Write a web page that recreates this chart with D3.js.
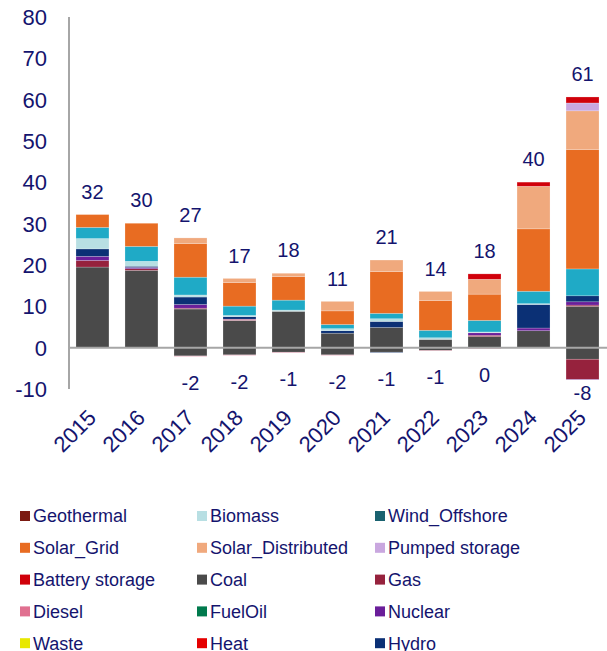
<!DOCTYPE html>
<html><head><meta charset="utf-8">
<script src="https://cdn.jsdelivr.net/npm/d3@7"></script>
<style>
body{margin:0;background:#fff;}
svg text{font-family:"Liberation Sans",Arial,sans-serif;fill:#14146e;}
</style></head>
<body><svg id="c" width="607" height="651"></svg>
<script>
const years = ["2015","2016","2017","2018","2019","2020","2021","2022","2023","2024","2025"];
const seriesNames = ["Coal","Gas","Diesel","FuelOil","Nuclear","Hydro","Geothermal","Biomass","Waste","Wind_Onshore","Wind_Offshore","Solar_Grid","Solar_Distributed","Pumped storage","Battery storage","Heat"];
const colors = ["#4a4a4a","#96223d","#e07090","#007a4d","#6a1e9a","#0b3075","#7b1a12","#b8dfe3","#e8e800","#1faac6","#1a6270","#e86c22","#f0a97d","#c9a7df","#d0000a","#e50000"];
// additions (positive)
const addCoal    = [19.5,18.7,9.35,6.6,8.8,3.5,4.9,2.0,2.7,4.1,10.0];
const addGas     = [1.6,0.4,0.2,0,0,0,0,0,0.3,0,0.3];
const addDiesel  = [0,0,0,0.3,0,0,0,0,0,0,0];
const addFuelOil = [0,0,0,0,0,0,0,0,0,0,0];
const addNuclear = [1.0,0.3,0.9,0,0,0,0,0,0.6,0.65,0.8];
const addHydro   = [1.8,0.3,1.8,0.6,0,0.6,1.45,0,0,5.7,1.45];
const addGeo     = [0,0,0,0,0,0,0,0,0,0,0];
const addBiomass = [2.5,1.2,0.5,0.3,0.3,0.5,0.65,0.4,0.2,0.2,0];
const addWaste   = [0,0,0,0,0,0,0,0,0,0,0];
const addWindOn  = [2.7,3.6,4.3,2.25,2.4,1.0,1.3,1.8,2.8,3.0,6.5];
const addWindOff = [0,0,0,0,0,0,0,0,0,0,0];
const addSolarG  = [3.1,5.6,8.1,5.7,5.7,3.3,10.1,7.2,6.35,15.1,28.9];
const addSolarD  = [0,0,1.4,1.0,0.8,2.3,2.8,2.2,3.6,10.3,9.35];
const addPumped  = [0,0,0,0,0,0,0,0,0,0,1.9];
const addBattery = [0,0,0,0,0,0,0,0,1.3,1.0,1.45];
const addHeat    = [0,0,0,0,0,0,0,0,0,0,0];
// retirements (negative)
const retCoal    = [0,0,-2.0,-1.75,-1.1,-1.75,-1.1,-0.7,0,0,-2.8];
const retGas     = [0,0,0,0,0,0,0,0,0,0,-4.9];
const retDiesel  = [0,0,-0.1,-0.1,-0.1,-0.1,0,-0.1,-0.2,0,0];
const retNuclear = [0,0,0,0,0,0,0,0,0,0,-0.1];
const retHydro   = [0,0,0,0,0,0,-0.1,0,0,0,0];
const yTicks = [-10,0,10,20,30,40,50,60,70,80];
const legendOrder = ["Geothermal","Biomass","Wind_Offshore","Solar_Grid","Solar_Distributed","Pumped storage","Battery storage","Coal","Gas","Diesel","FuelOil","Nuclear","Waste","Heat","Hydro","Wind_Onshore"];

const addArr = [addCoal,addGas,addDiesel,addFuelOil,addNuclear,addHydro,addGeo,addBiomass,addWaste,addWindOn,addWindOff,addSolarG,addSolarD,addPumped,addBattery,addHeat];
const zero = years.map(()=>0);
const retMap = {Coal:retCoal,Gas:retGas,Diesel:retDiesel,Nuclear:retNuclear,Hydro:retHydro};
const retArr = seriesNames.map(n=>retMap[n]||zero);
const color = d3.scaleOrdinal().domain(seriesNames).range(colors);

const svg = d3.select("#c");
const x = d3.scaleBand().domain(years).range([68,607]).paddingInner(0.327).paddingOuter(0.163);
const y = d3.scaleLinear().domain([-10,80]).range([389,17]);

function rows(arrs){return years.map((yr,i)=>{const o={year:yr};seriesNames.forEach((n,k)=>o[n]=arrs[k][i]);return o;});}
const stackGen = d3.stack().keys(seriesNames).offset(d3.stackOffsetDiverging);
const addStack = stackGen(rows(addArr));
const retStack = stackGen(rows(retArr));

function drawStack(st){
  svg.append("g").selectAll("g").data(st).join("g").attr("fill",d=>color(d.key))
    .selectAll("rect").data(d=>d).join("rect")
    .attr("x",d=>x(d.data.year)).attr("width",x.bandwidth())
    .attr("y",d=>y(Math.max(d[0],d[1])))
    .attr("height",d=>Math.abs(y(d[0])-y(d[1])))
    .attr("stroke","#ffffff").attr("stroke-opacity",0.35).attr("stroke-width",0.6);
}
drawStack(addStack);
drawStack(retStack);

// axes lines
svg.append("line").attr("x1",69).attr("x2",69).attr("y1",y(80)).attr("y2",y(-10)).attr("stroke","#a6a6a6").attr("stroke-width",2);
svg.append("line").attr("x1",69).attr("x2",607).attr("y1",y(0)).attr("y2",y(0)).attr("stroke","#a6a6a6").attr("stroke-width",2);

// y tick labels
svg.append("g").selectAll("text").data(yTicks).join("text")
  .attr("x",47).attr("y",d=>y(d)).attr("dy","0.36em").attr("text-anchor","end")
  .style("font-size","22px").text(d=>d);

// x labels
svg.append("g").selectAll("text").data(years).join("text")
  .attr("transform",d=>`translate(${x(d)+x.bandwidth()/2+5},419) rotate(-45)`)
  .attr("text-anchor","end").style("font-size","22px").text(d=>d);

// totals
const posTot = years.map((yr,i)=>d3.sum(addArr,a=>a[i]));
const negTot = years.map((yr,i)=>d3.sum(retArr,a=>a[i]));
svg.append("g").selectAll("text").data(years).join("text")
  .attr("x",d=>x(d)+x.bandwidth()/2).attr("y",(d,i)=>y(posTot[i])-23).attr("dy","0.36em")
  .attr("text-anchor","middle").style("font-size","20px").text((d,i)=>String(Math.round(posTot[i])));
svg.append("g").selectAll("text").data(years.filter((d,i)=>negTot[i]<0)).join("text")
  .attr("x",d=>x(d)+x.bandwidth()/2)
  .attr("y",d=>Math.min(y(negTot[years.indexOf(d)])+26,393)).attr("dy","0.36em")
  .attr("text-anchor","middle").style("font-size","20px")
  .text(d=>String(Math.round(negTot[years.indexOf(d)])+0));

// legend
const colX = [20,197,375];
const lg = svg.append("g").selectAll("g").data(legendOrder).join("g")
  .attr("transform",(d,i)=>`translate(${colX[i%3]},${516+Math.floor(i/3)*31.8})`);
lg.append("rect").attr("x",0).attr("y",-5).attr("width",10).attr("height",10).attr("fill",d=>color(d));
lg.append("text").attr("x",13).attr("y",0).attr("dy","0.36em").style("font-size","18px").text(d=>d);
</script></body></html>
